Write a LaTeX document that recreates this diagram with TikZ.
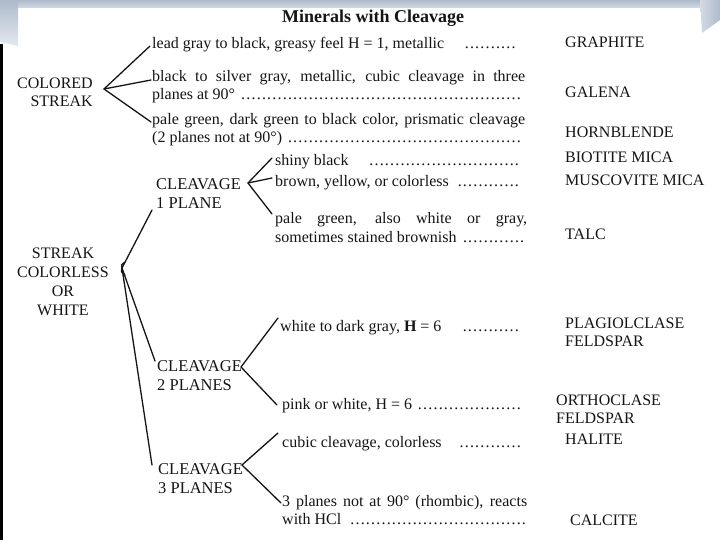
\documentclass[tikz,border=0pt]{standalone}
\usepackage{fontspec}
\setmainfont{Liberation Serif}
\usetikzlibrary{calc}
\definecolor{ink}{HTML}{151515}
\definecolor{bandA}{HTML}{AEBACB}
\definecolor{bandB}{HTML}{D3DAE4}
\newcommand{\dotlead}{\leaders\hbox to 5.2pt{\hss.\hss}\hfill\null}
\tikzset{
  desc/.style={anchor=base west, inner sep=0pt, text=ink, font=\fontsize{16}{18}\selectfont, align=justify},
  mineral/.style={anchor=base west, inner sep=0pt, text=ink, font=\fontsize{16}{18}\selectfont, align=left},
  cls/.style={anchor=base west, inner sep=0pt, text=ink, font=\fontsize{16.5}{18.5}\selectfont, align=left},
  titlestyle/.style={anchor=base, inner sep=0pt, text=ink, font=\bfseries\fontsize{18}{20}\selectfont},
  conn/.style={line width=1.3pt, draw=ink, line cap=round},
}
\begin{document}
\begin{tikzpicture}[x=1pt,y=-1pt]
\useasboundingbox (0,0) rectangle (720,540);
% background
\fill[white] (0,0) rectangle (720,540);
\shade[top color=bandA, bottom color=bandB] (0,0) rectangle (720,8);
\shade[top color=bandA, bottom color=bandB!60!white] (0,0) -- (18,0) -- (18,46) -- (0,42) -- cycle;
\shade[left color=bandB, right color=bandA] (700,0) -- (720,0) -- (720,20) -- (702,33) -- cycle;
\draw[line width=3pt, black] (1,44) -- (1,540);

% title
\node[titlestyle] (title) at (373,23) {Minerals with Cleavage};

% left classes (base = last line)
\node[cls, align=right, anchor=base east, font=\fontsize{16}{18.5}\selectfont] (cstreak) at (93,107) {COLORED\\STREAK};
\node[cls, align=center, anchor=base, font=\fontsize{16}{19}\selectfont] (colorless) at (63,315) {STREAK\\COLORLESS\\OR\\WHITE};
\node[cls] (cl1) at (156,208) {CLEAVAGE\\1 PLANE};
\node[cls] (cl2) at (157,390) {CLEAVAGE\\2 PLANES};
\node[cls] (cl3) at (158,493) {CLEAVAGE\\3 PLANES};

% descriptions
\node[desc, text width=368pt] (d1) at (152,49) {lead gray to black, greasy feel H = 1, metallic\quad\dotlead};
\node[desc, text width=373pt] (d2) at (152,82) {black to silver gray, metallic, cubic cleavage in three\linebreak planes at 90°\ \dotlead};
\node[desc, text width=373pt] (d3) at (152,125) {pale green, dark green to black color, prismatic cleavage\linebreak (2 planes not at 90°)\ \dotlead};
\node[desc, text width=246pt] (d4) at (275,166) {shiny black\quad\dotlead};
\node[desc, text width=246pt] (d5) at (275,187) {brown, yellow, or colorless\ \dotlead};
\node[desc, text width=252pt] (d6) at (275,224) {pale green, also white or gray,\linebreak sometimes stained brownish\ \dotlead};
\node[desc, text width=241pt] (d7) at (280,331) {white to dark gray, \textbf{H} = 6\quad\dotlead};
\node[desc, text width=243pt] (d8) at (282,409) {pink or white, H = 6\ \dotlead};
\node[desc, text width=242pt] (d9) at (282,447) {cubic cleavage, colorless\quad\dotlead};
\node[desc, text width=245pt] (d10) at (282,506) {3 planes not at 90° (rhombic), reacts\linebreak with HCl\ \dotlead};

% minerals (base = last line)
\node[mineral] (m1) at (565,48) {GRAPHITE};
\node[mineral] (m2) at (565,98) {GALENA};
\node[mineral] (m3) at (565,138) {HORNBLENDE};
\node[mineral] (m4) at (565,163) {BIOTITE MICA};
\node[mineral] (m5) at (565,186) {MUSCOVITE MICA};
\node[mineral] (m6) at (565,240) {TALC};
\node[mineral] (m7) at (565,346) {PLAGIOLCLASE\\FELDSPAR};
\node[mineral] (m8) at (556,423) {ORTHOCLASE\\FELDSPAR};
\node[mineral] (m9) at (565,444) {HALITE};
\node[mineral] (m10) at (570,525) {CALCITE};

% connector apexes
\coordinate (csA) at (104,89);
\coordinate (scA) at (122,268);
\coordinate (c1A) at (248,183);
\coordinate (c2A) at (241,367);
\coordinate (c3A) at (242,465);

% connectors
\draw[conn] (csA) -- ($(d1.base west)+(-2,-3)$);
\draw[conn] (csA) -- ($(d2.base west)+(-1,-2)$);
\draw[conn] (csA) -- ($(d3.base west)+(-1,-3)$);

\draw[conn] (125,262) .. controls (121,265) .. (scA) .. controls (121,272) .. (125,275);
\draw[conn] (scA) -- ($(cl1.base west)+(-4,2)$);
\draw[conn] (scA) -- ($(cl2.base west)+(-2,-29)$);
\draw[conn] (scA) -- ($(cl3.base west)+(-6,-28)$);

\draw[conn] (c1A) -- ($(d4.base west)+(-3,-8)$);
\draw[conn] (c1A) -- ($(d5.base west)+(-3,-9)$);
\draw[conn] (c1A) -- ($(d6.base west)+(-3,-10)$);

\draw[conn] (c2A) -- ($(d7.base west)+(-2,-13)$);
\draw[conn] (c2A) -- ($(d8.base west)+(-5,-4)$);

\draw[conn] (c3A) -- ($(d9.base west)+(-4,-14)$);
\draw[conn] (c3A) -- ($(d10.base west)+(-1,-3)$);
\end{tikzpicture}
\end{document}
